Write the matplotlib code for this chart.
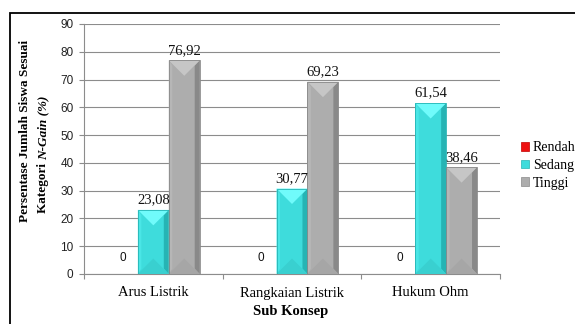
import matplotlib
matplotlib.use("Agg")
import matplotlib.pyplot as plt
from matplotlib.patches import Polygon, Rectangle, Patch
import numpy as np

# persentase siswa per kategori N-Gain untuk tiap sub konsep
categories = ["Arus Listrik", "Rangkaian Listrik", "Hukum Ohm"]
series = ["Rendah", "Sedang", "Tinggi"]
rendah = [0, 0, 0]
sedang = [23.08, 30.77, 61.54]
tinggi = [76.92, 69.23, 38.46]
yticks = [0, 10, 20, 30, 40, 50, 60, 70, 80, 90]

# main, top, left, right, bottom shades for each series
shades = {
    "Rendah": ("#ee1111", "#ff5555", "#f52a2a", "#c00000", "#e41010"),
    "Sedang": ("#3edcdc", "#70fbfb", "#4ae6e6", "#26b4b4", "#39d0d0"),
    "Tinggi": ("#adadad", "#c6c6c6", "#b6b6b6", "#898989", "#a6a6a6"),
}

SERIF = "Liberation Serif"
SANS = "Liberation Sans"
GRID = "#8c8c8c"

fig = plt.figure(figsize=(5.75, 3.24), dpi=100)
ax = fig.add_axes([84 / 575, 1 - 274 / 324, 416 / 575, 250 / 324])

x = np.arange(len(categories))
bw = 0.223
ax.set_xlim(-0.5, len(categories) - 0.5)
ax.set_ylim(0, 90)

ax.set_yticks(yticks)
ax.yaxis.grid(True, color=GRID, linewidth=0.8)
ax.set_axisbelow(True)
for s in ["top", "right"]:
    ax.spines[s].set_visible(False)
for s in ["left", "bottom"]:
    ax.spines[s].set_color(GRID)
    ax.spines[s].set_linewidth(0.8)

ax.tick_params(axis="y", length=3.5, width=0.8, color=GRID, pad=4,
               labelsize=8.5, labelcolor="#222222")
for lab in ax.get_yticklabels():
    lab.set_family(SANS)

ax.set_xticks(x)
ax.set_xticklabels(categories, family=SERIF, fontsize=10.5)
ax.tick_params(axis="x", length=0, pad=9)
ax.set_xticks(np.arange(-0.5, len(categories)), minor=True)
ax.tick_params(axis="x", which="minor", length=3.5, width=0.8, color=GRID)

# pixel scale of the data axes, used for the bevel shape
p0 = ax.transData.transform((0, 0))
p1 = ax.transData.transform((1, 1))
px_x = p1[0] - p0[0]
px_y = p1[1] - p0[1]


def bevel_bar(xc, h, cols):
    main, top, left, right, bottom = cols
    x0, x1 = xc - bw / 2, xc + bw / 2
    ax.add_patch(Rectangle((x0, 0), bw, h, facecolor=main, edgecolor="none", zorder=2))
    depth = 0.5 * bw * px_x / px_y
    depth = min(depth, h / 2)
    sx = 3.5 / px_x
    sxr = 5.0 / px_x
    ax.add_patch(Polygon([(x0, 0), (x0 + sx, depth * 0.35), (x0 + sx, h - depth * 0.35), (x0, h)],
                         closed=True, facecolor=left, edgecolor="none", zorder=3))
    ax.add_patch(Polygon([(x1, 0), (x1 - sxr, depth * 0.35), (x1 - sxr, h - depth * 0.35), (x1, h)],
                         closed=True, facecolor=right, edgecolor="none", zorder=3))
    ax.add_patch(Polygon([(x0, h), (x1, h), (xc, h - depth)],
                         closed=True, facecolor=top, edgecolor="none", zorder=3))
    ax.add_patch(Polygon([(x0, 0), (x1, 0), (xc, depth)],
                         closed=True, facecolor=bottom, edgecolor="none", zorder=3))
    ax.add_patch(Rectangle((x0, 0), bw, h, facecolor="none", edgecolor=right,
                           linewidth=0.6, zorder=4))


for i, (name, vals) in enumerate(zip(series, [rendah, sedang, tinggi])):
    xs = x + (i - 1) * bw
    for xc, v in zip(xs, vals):
        if v > 0:
            bevel_bar(xc, v, shades[name])
            ax.annotate(f"{v:.2f}".replace(".", ","), (xc, v), xytext=(0, 2.5),
                        textcoords="offset points", ha="center", va="bottom",
                        family=SERIF, fontsize=10.5, color="#111111", zorder=5)
        else:
            ax.annotate("0", (xc, v), xytext=(0, 7), textcoords="offset points",
                        ha="center", va="bottom", family=SANS, fontsize=8.5,
                        color="#111111", zorder=5)

# axis titles
fig.text(291 / 575, 1 - 312 / 324, "Sub Konsep", family=SERIF, fontweight="bold",
         fontsize=10.5, ha="center", va="center")
fig.text(25 / 575, 1 - 131 / 324, "Persentase Jumlah Siswa Sesuai", family=SERIF,
         fontweight="bold", fontsize=9.5, rotation=90, ha="center", va="center")
t1 = fig.text(43 / 575, 1 - 213 / 324, "Kategori ", family=SERIF, fontweight="bold",
              fontsize=9.5, rotation=90, ha="center", va="bottom")
fig.canvas.draw()
bb = t1.get_window_extent(fig.canvas.get_renderer())
fig.text(43 / 575, bb.y1 / fig.bbox.height, "N-Gain (%)", family=SERIF, fontweight="bold",
         style="italic", fontsize=9.5, rotation=90, ha="center", va="bottom")

# legend
handles = [Patch(facecolor=shades[n][0], edgecolor=shades[n][3], linewidth=0.5) for n in series]
leg = fig.legend(handles, series, loc="upper left", bbox_to_anchor=(521 / 575, 1 - 141 / 324),
                 frameon=False, prop={"family": SERIF, "size": 10}, handlelength=0.6,
                 handleheight=0.6, handletextpad=0.25, labelspacing=0.35, borderpad=0,
                 borderaxespad=0)

# outer frame
fig.patches.append(Rectangle((10 / 575, -0.2), 1.5, 1.2 - 12.5 / 324,
                             transform=fig.transFigure, fill=False,
                             edgecolor="black", linewidth=1.3))

fig.savefig("out.png", dpi=100)
